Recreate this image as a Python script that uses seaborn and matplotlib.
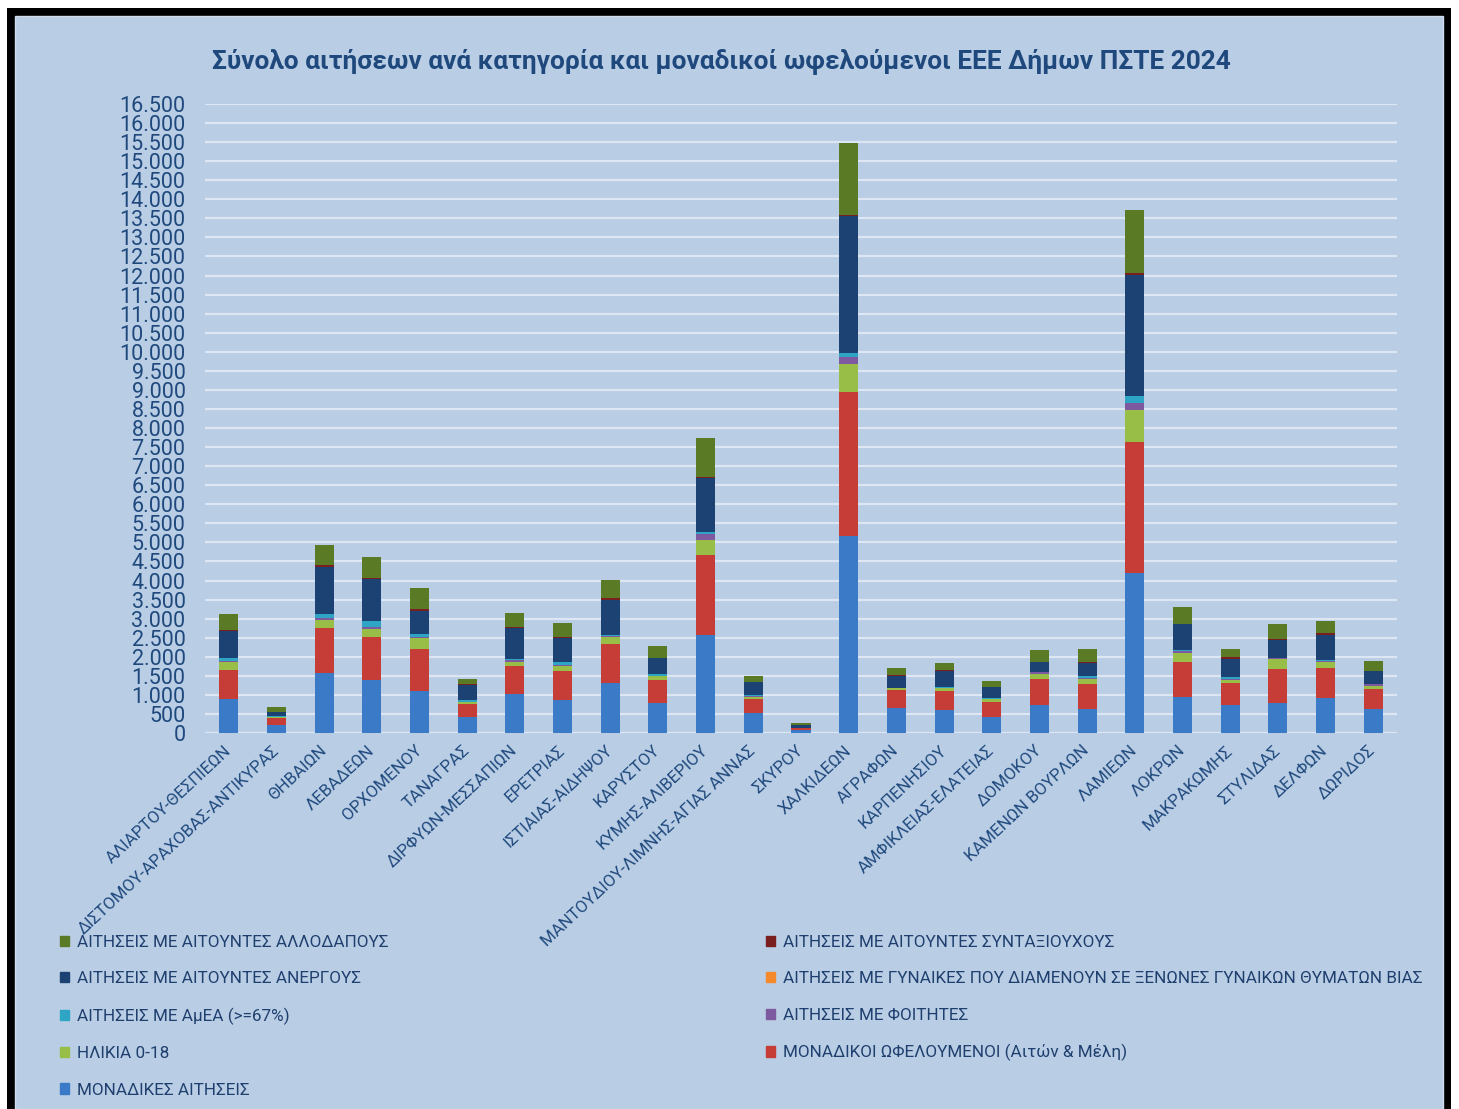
import numpy as np
import pandas as pd
import matplotlib
matplotlib.use("Agg")
import matplotlib.pyplot as plt
from matplotlib.patches import Patch, Rectangle
from matplotlib.ticker import FuncFormatter
import seaborn as sns

# Data
dimoi = ["ΑΛΙΑΡΤΟΥ-ΘΕΣΠΙΕΩΝ", "ΔΙΣΤΟΜΟΥ-ΑΡΑΧΟΒΑΣ-ΑΝΤΙΚΥΡΑΣ", "ΘΗΒΑΙΩΝ", "ΛΕΒΑΔΕΩΝ",
         "ΟΡΧΟΜΕΝΟΥ", "ΤΑΝΑΓΡΑΣ", "ΔΙΡΦΥΩΝ-ΜΕΣΣΑΠΙΩΝ", "ΕΡΕΤΡΙΑΣ", "ΙΣΤΙΑΙΑΣ-ΑΙΔΗΨΟΥ",
         "ΚΑΡΥΣΤΟΥ", "ΚΥΜΗΣ-ΑΛΙΒΕΡΙΟΥ", "ΜΑΝΤΟΥΔΙΟΥ-ΛΙΜΝΗΣ-ΑΓΙΑΣ ΑΝΝΑΣ", "ΣΚΥΡΟΥ",
         "ΧΑΛΚΙΔΕΩΝ", "ΑΓΡΑΦΩΝ", "ΚΑΡΠΕΝΗΣΙΟΥ", "ΑΜΦΙΚΛΕΙΑΣ-ΕΛΑΤΕΙΑΣ", "ΔΟΜΟΚΟΥ",
         "ΚΑΜΕΝΩΝ ΒΟΥΡΛΩΝ", "ΛΑΜΙΕΩΝ", "ΛΟΚΡΩΝ", "ΜΑΚΡΑΚΩΜΗΣ", "ΣΤΥΛΙΔΑΣ", "ΔΕΛΦΩΝ", "ΔΩΡΙΔΟΣ"]

monadikes_aitiseis = [900, 200, 1580, 1385, 1105, 420, 1015, 875, 1310, 785, 2560, 525, 70,
                      5180, 650, 600, 430, 725, 640, 4210, 945, 725, 785, 925, 640]
monadikoi_ofeloumenoi = [760, 190, 1165, 1140, 1105, 335, 740, 750, 1030, 610, 2100, 360, 50,
                         3770, 475, 495, 380, 695, 645, 3425, 910, 585, 890, 770, 525]
ilikia_0_18 = [200, 30, 220, 200, 275, 55, 95, 125, 175, 90, 395, 60, 10,
               725, 45, 75, 85, 125, 125, 840, 245, 70, 260, 155, 80]
foitites = [40, 10, 55, 65, 45, 10, 70, 45, 25, 20, 175, 35, 3,
            190, 8, 10, 5, 50, 30, 180, 45, 45, 35, 35, 30]
amea = [60, 15, 110, 145, 80, 45, 10, 70, 40, 35, 35, 10, 5,
        105, 10, 30, 25, 10, 65, 180, 45, 45, 10, 35, 15]
gynaikes_xenones = [0, 0, 0, 0, 0, 0, 0, 0, 0, 0, 0, 0, 0,
                    0, 0, 0, 0, 0, 0, 0, 0, 0, 0, 0, 0]
anergoi = [720, 110, 1230, 1105, 600, 400, 830, 620, 920, 420, 1415, 340, 80,
           3600, 320, 425, 270, 255, 325, 3170, 665, 480, 470, 655, 335]
syntaxiouxoi = [30, 5, 35, 35, 35, 15, 25, 25, 35, 5, 35, 15, 2,
                30, 10, 10, 5, 10, 20, 50, 10, 35, 10, 45, 10]
allodapoi = [400, 110, 540, 530, 555, 140, 360, 385, 490, 320, 1030, 140, 35,
             1885, 190, 200, 155, 305, 350, 1665, 435, 230, 410, 330, 250]

# stack order, bottom -> top
series = [
    ("ΜΟΝΑΔΙΚΕΣ ΑΙΤΗΣΕΙΣ", monadikes_aitiseis, "#3B7AC6"),
    ("ΜΟΝΑΔΙΚΟΙ ΩΦΕΛΟΥΜΕΝΟΙ (Αιτών & Μέλη)", monadikoi_ofeloumenoi, "#C63D38"),
    ("ΗΛΙΚΙΑ 0-18", ilikia_0_18, "#98BE48"),
    ("ΑΙΤΗΣΕΙΣ ΜΕ ΦΟΙΤΗΤΕΣ", foitites, "#7D5AA0"),
    ("ΑΙΤΗΣΕΙΣ ΜΕ ΑμΕΑ (>=67%)", amea, "#2FA5C6"),
    ("ΑΙΤΗΣΕΙΣ ΜΕ ΓΥΝΑΙΚΕΣ ΠΟΥ ΔΙΑΜΕΝΟΥΝ ΣΕ ΞΕΝΩΝΕΣ ΓΥΝΑΙΚΩΝ ΘΥΜΑΤΩΝ ΒΙΑΣ", gynaikes_xenones, "#F58A2C"),
    ("ΑΙΤΗΣΕΙΣ ΜΕ ΑΙΤΟΥΝΤΕΣ ΑΝΕΡΓΟΥΣ", anergoi, "#1C4273"),
    ("ΑΙΤΗΣΕΙΣ ΜΕ ΑΙΤΟΥΝΤΕΣ ΣΥΝΤΑΞΙΟΥΧΟΥΣ", syntaxiouxoi, "#7A1F1F"),
    ("ΑΙΤΗΣΕΙΣ ΜΕ ΑΙΤΟΥΝΤΕΣ ΑΛΛΟΔΑΠΟΥΣ", allodapoi, "#5B7A25"),
]

df = pd.DataFrame({"dimos": dimoi})
running = np.zeros(len(dimoi))
for name, vals, _ in series:
    running = running + np.array(vals)
    df[name] = running

sns.set_theme(style="white")
plt.rcParams['font.family'] = ['Roboto', 'DejaVu Sans']

W, H = 1459, 1109
fig = plt.figure(figsize=(W / 100, H / 100), dpi=100, facecolor="white")

# frame: black border + light blue panel
fig.patches.append(Rectangle((7 / W, 0), (1451 - 7) / W, 1 - 8 / H, transform=fig.transFigure,
                             facecolor="black", edgecolor="none", zorder=-3))
fig.patches.append(Rectangle((15 / W, 0), (1443 - 15) / W, 1 - 16 / H, transform=fig.transFigure,
                             facecolor="#B9CDE5", edgecolor="#D0DDEE", linewidth=1, zorder=-2))

ax = fig.add_axes([205 / W, 1 - 733 / H, (1397 - 205) / W, (733 - 104) / H])
ax.set_facecolor("none")

# stacked bars: draw cumulative totals from the top series down
for name, _, col in reversed(series):
    sns.barplot(data=df, x="dimos", y=name, color=col, saturation=1, width=0.4,
                errorbar=None, ax=ax, zorder=3, linewidth=0, edgecolor="none")

txt = "#1F497D"
ax.set_ylim(0, 16500)
ax.set_xlim(-0.5, len(dimoi) - 0.5)
ax.set_yticks(np.arange(0, 16501, 500))
ax.yaxis.set_major_formatter(FuncFormatter(lambda v, _: f"{int(v):,}".replace(",", ".")))
ax.grid(axis="y", color="#DDE7F3", linewidth=1.6, zorder=0)
ax.grid(axis="x", visible=False)
ax.set_axisbelow(True)
for s in ax.spines.values():
    s.set_visible(False)
ax.axhline(0, color="#DDE7F3", linewidth=1.6, zorder=1)
ax.tick_params(axis="y", length=0, pad=14, labelsize=15.5, labelcolor=txt)
ax.tick_params(axis="x", length=0, pad=11, labelsize=12.2, labelcolor=txt)
ax.set_xticks(range(len(dimoi)))
ax.set_xticklabels(dimoi, rotation=43, ha="right", va="center", rotation_mode="anchor")
ax.set_xlabel("")
ax.set_ylabel("")

fig.text(721 / W, 1 - 61 / H,
         "Σύνολο αιτήσεων ανά κατηγορία και μοναδικοί ωφελούμενοι ΕΕΕ Δήμων ΠΣΤΕ 2024",
         ha="center", va="center", fontsize=18.9, fontweight="bold", color=txt)

# legend in two columns, reversed series order filled row by row
rev = list(reversed(series))
left_items = rev[0::2]
right_items = rev[1::2]
leg_kw = dict(loc="upper left", frameon=False, fontsize=12.3, labelcolor="#1F3F6E",
              handlelength=0.55, handleheight=0.55, handletextpad=0.45,
              labelspacing=1.25, borderpad=0, borderaxespad=0)
fig.legend(handles=[Patch(color=c, label=n) for n, _, c in left_items],
           bbox_to_anchor=(60 / W, 1 - 935 / H), **leg_kw)
fig.legend(handles=[Patch(color=c, label=n) for n, _, c in right_items],
           bbox_to_anchor=(766 / W, 1 - 935 / H), **leg_kw)

fig.savefig("out.png", dpi=100, facecolor="white")
